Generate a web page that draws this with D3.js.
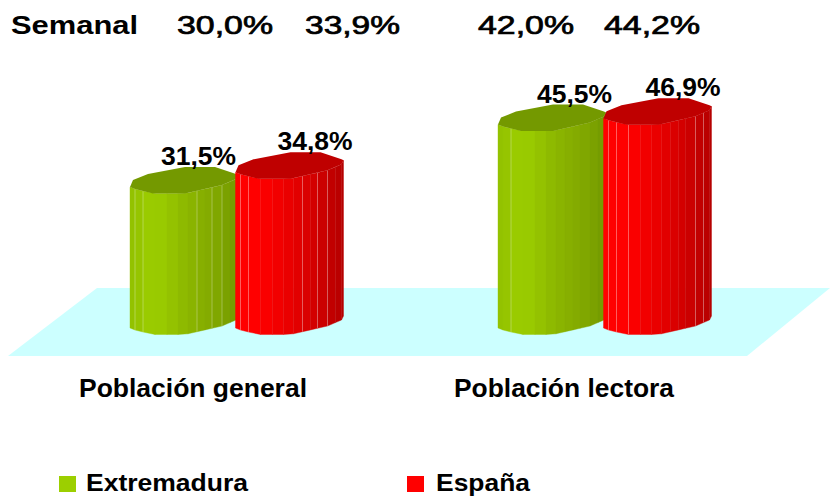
<!DOCTYPE html>
<html>
<head>
    <meta charset="utf-8">
    <title>Población general y lectora</title>
    <script src="https://d3js.org/d3.v7.min.js"></script>
    <style>
        body { margin: 0; background: #fff; }
        svg { display: block; }
        text {
            font-family: "Liberation Sans", Arial, sans-serif;
            font-weight: bold;
            fill: #000;
        }
    </style>
</head>
<body>
    <div id="svg_container"></div>
    <script>
        const width = 830;
        const height = 496;

        // data
        const categories = ["Población general", "Población lectora"];
        const series_names = ["Extremadura", "España"];
        const extremadura_values = [31.5, 45.5];
        const espana_values = [34.8, 46.9];
        const semanal_label = "Semanal";
        const semanal_extremadura = [30.0, 42.0];
        const semanal_espana = [33.9, 44.2];

        const series_values = [extremadura_values, espana_values];
        const fmt = v => v.toFixed(1).replace(".", ",") + "%";

        const svg = d3.select("#svg_container")
            .append("svg")
            .attr("width", width)
            .attr("height", height);

        // group centre, then one band per series inside the group
        const x_group = d3.scalePoint().domain(categories).range([236, 604]);
        const x_series = d3.scaleBand().domain(series_names).range([-106, 105]);
        const y = d3.scaleLinear().domain([0, 45.5]).range([328, 124.5]);

        // the floor
        svg.append("polygon")
            .attr("points", "97,288 830,288 747,356 8,356")
            .attr("fill", "#ccffff");

        // outline of the faceted cylinder, relative to its left edge
        const facet_x = [0, 5, 13, 25, 37, 48, 58, 67, 75, 82, 92, 100, 106, 108];
        const front_y = d3.scaleLinear()
            .domain([0, 5, 23, 55, 92, 106, 108])
            .range([0, 2, 6.5, 6.5, -2, -8, -12]);
        const back_outline = [[3, -7], [18, -13], [55, -20], [85, -20], [106, -13]];

        const palettes = [
            { side: ["#92c000", "#9ccf00", "#8cb600", "#7fa500", "#739800"], cap: "#749900" },
            { side: ["#ff0000", "#ff0000", "#e60000", "#c80000", "#b40000"], cap: "#bf0000" }
        ];
        const side_stops = [0, 25, 58, 90, 108];

        // pale seams between some facets, they differ from bar to bar
        const seams = [
            [[5, 13, 67, 82, 92], [5, 13, 67, 82, 92]],
            [[13], [5, 13, 25, 92, 100]]
        ];
        const label_offset = [[68.5, 79.5], [76.5, 79.5]];

        const bars = categories.map((cat, c) => series_names.map((name, s) => ({
            cat, c, name, s, value: series_values[s][c]
        }))).flat();

        // drawn left to right so the red bar sits over the green one
        bars.forEach(d => {
            const left = x_group(d.cat) + x_series(d.name);
            const top = y(d.value);
            const base = y(0);
            const color = d3.scaleLinear().domain(side_stops).range(palettes[d.s].side);
            const g = svg.append("g").attr("class", "bar");

            g.selectAll("polygon.facet")
                .data(d3.pairs(facet_x))
                .enter()
                .append("polygon")
                .attr("class", "facet")
                .attr("points", ([a, b]) => [
                    [left + a, top + front_y(a)],
                    [left + b, top + front_y(b)],
                    [left + b, base + front_y(b)],
                    [left + a, base + front_y(a)]
                ].join(" "))
                .attr("fill", ([a, b]) => color((a + b) / 2))
                .attr("stroke", ([a, b]) => color((a + b) / 2))
                .attr("stroke-width", 0.4);

            g.selectAll("line")
                .data(seams[d.c][d.s])
                .enter()
                .append("line")
                .attr("x1", a => left + a)
                .attr("x2", a => left + a)
                .attr("y1", a => top + front_y(a))
                .attr("y2", a => base + front_y(a))
                .attr("stroke", "#fff")
                .attr("stroke-opacity", 0.3)
                .attr("stroke-width", 1);

            const cap_front = [0, 5, 23, 55, 92, 106, 108].map(a => [left + a, top + front_y(a)]);
            const cap_back = back_outline.slice().reverse().map(p => [left + p[0], top + p[1]]);
            g.append("polygon")
                .attr("points", cap_front.concat(cap_back).join(" "))
                .attr("fill", palettes[d.s].cap);
        });

        function label(txt, x0, x1, baseline, size) {
            return svg.append("text")
                .attr("x", x0)
                .attr("y", baseline)
                .attr("font-size", size)
                .attr("textLength", x1 - x0)
                .attr("lengthAdjust", "spacingAndGlyphs")
                .text(txt);
        }

        // value labels above each bar
        bars.forEach(d => {
            const cx = x_group(d.cat) + x_series(d.name) + label_offset[d.c][d.s];
            label(fmt(d.value), cx - 37.5, cx + 37.5, y(d.value) - 22, 26);
        });

        // top row
        label(semanal_label, 11, 138, 34, 25);
        const semanal_row = [
            [semanal_extremadura[0], 177, 273],
            [semanal_espana[0], 305, 400],
            [semanal_extremadura[1], 478, 574],
            [semanal_espana[1], 604, 700]
        ];
        semanal_row.forEach(r => {
            label(fmt(r[0]), r[1], r[2], 34, 25)
                .style("font-weight", "normal")
                .attr("stroke", "#000")
                .attr("stroke-width", 0.7);
        });

        // category names
        label(categories[0], 79, 307, 397, 25);
        label(categories[1], 454, 674, 397, 25);

        // legend
        const legend_x = [59, 407];
        const legend_text = [[86, 248], [436, 530]];
        series_names.forEach((name, s) => {
            svg.append("rect")
                .attr("x", legend_x[s])
                .attr("y", 476)
                .attr("width", 17)
                .attr("height", 16)
                .attr("fill", palettes[s].side[1]);
            label(name, legend_text[s][0], legend_text[s][1], 490.5, 24);
        });
    </script>
</body>
</html>
